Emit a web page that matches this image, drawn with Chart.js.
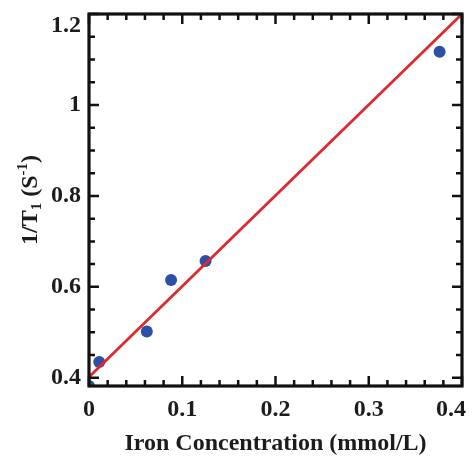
<!DOCTYPE html>
<html><head><meta charset="utf-8">
<script src="https://cdn.jsdelivr.net/npm/chart.js@4/dist/chart.umd.min.js"></script>
<style>html,body{margin:0;padding:0;background:#fff;}#wrap{width:472px;height:459px;}</style>
</head><body><div id="wrap"><canvas id="c" width="472" height="459"></canvas></div>
<script>
// Data
const concentration = [0, 0.011, 0.062, 0.088, 0.125, 0.376];
const relaxRate = [0.382, 0.435, 0.502, 0.615, 0.657, 1.117];
const fitX = [0, 0.4];
const fitY = [0.402, 1.2];
const xTicks = [0, 0.1, 0.2, 0.3, 0.4];
const yTicks = [0.4, 0.6, 0.8, 1, 1.2];
const xMinorTicks = [0.02,0.04,0.06,0.08,0.12,0.14,0.16,0.18,0.22,0.24,0.26,0.28,0.32,0.34,0.36,0.38];
const yMinorTicks = [0.45,0.5,0.55,0.65,0.7,0.75,0.85,0.9,0.95,1.05,1.1,1.15];
const xTitle = 'Iron Concentration (mmol/L)';

const FONT = '"Liberation Serif", "Times New Roman", serif';
const TXT = '#1c1c1c';
const fmt = v => String(+(+v).toFixed(2));

const framePlugin = {
  id: 'frame',
  afterDraw(chart) {
    const {ctx, chartArea: a, scales: {x, y}} = chart;
    ctx.save();
    ctx.strokeStyle = '#111';
    ctx.lineWidth = 2.5;
    ctx.beginPath();
    const tick = (v, len, axis) => {
      if (axis === 'x') {
        const px = x.getPixelForValue(v);
        ctx.moveTo(px, a.bottom); ctx.lineTo(px, a.bottom - len);
        ctx.moveTo(px, a.top); ctx.lineTo(px, a.top + len);
      } else {
        const py = y.getPixelForValue(v);
        ctx.moveTo(a.left, py); ctx.lineTo(a.left + len, py);
        ctx.moveTo(a.right, py); ctx.lineTo(a.right - len, py);
      }
    };
    xTicks.forEach(v => tick(v, 10, 'x'));
    yTicks.forEach(v => tick(v, 10, 'y'));
    xMinorTicks.forEach(v => tick(v, 6, 'x'));
    yMinorTicks.forEach(v => tick(v, 6, 'y'));
    ctx.stroke();
    ctx.lineWidth = 3.2;
    ctx.strokeRect(a.left, a.top, a.right - a.left, a.bottom - a.top);

    ctx.fillStyle = TXT;
    ctx.font = 'bold 24px ' + FONT;
    // y tick labels
    ctx.textAlign = 'right';
    ctx.textBaseline = 'middle';
    yTicks.forEach(v => {
      let py = y.getPixelForValue(v);
      py = Math.max(py, 26);
      ctx.fillText(fmt(v), a.left - 8, py);
    });
    // x tick labels
    ctx.textAlign = 'center';
    ctx.textBaseline = 'alphabetic';
    xTicks.forEach(v => {
      const s = fmt(v);
      const w = ctx.measureText(s).width;
      let px = x.getPixelForValue(v);
      px = Math.min(px, chart.width - 6 - w / 2);
      ctx.fillText(s, px, 416);
    });
    // x title
    ctx.fillText(xTitle, (a.left + a.right) / 2, 450);

    // y title with subscript / superscript
    ctx.translate(37, (a.top + a.bottom) / 2);
    ctx.rotate(-Math.PI / 2);
    ctx.textAlign = 'left';
    const big = 'bold 24px ' + FONT, small = 'bold 15px ' + FONT;
    const parts = [
      {t: '1/T', f: big, dy: 0},
      {t: '1', f: small, dy: 4},
      {t: ' (S', f: big, dy: 0},
      {t: '-1', f: small, dy: -10},
      {t: ')', f: big, dy: 0}
    ];
    let total = 0;
    parts.forEach(p => { ctx.font = p.f; p.w = ctx.measureText(p.t).width; total += p.w; });
    let cx = -total / 2;
    parts.forEach(p => { ctx.font = p.f; ctx.fillText(p.t, cx, p.dy); cx += p.w; });
    ctx.restore();
  }
};

new Chart(document.getElementById('c'), {
  type: 'scatter',
  data: {
    datasets: [
      {
        type: 'line',
        data: fitX.map((v, i) => ({x: v, y: fitY[i]})),
        borderColor: '#dc2a2f', borderWidth: 2.8, pointRadius: 0, fill: false,
        order: 0, clip: false
      },
      {
        data: concentration.map((v, i) => ({x: v, y: relaxRate[i]})),
        backgroundColor: '#2c50a6', borderColor: '#2c50a6', borderWidth: 0,
        pointRadius: 6, order: 1, clip: 0
      }
    ]
  },
  options: {
    responsive: false, animation: false, devicePixelRatio: 1,
    layout: {padding: {top: 14, right: 10, left: 0, bottom: 0}},
    plugins: {legend: {display: false}, tooltip: {enabled: false}},
    scales: {
      x: {
        type: 'linear', min: 0, max: 0.4,
        afterBuildTicks: s => { s.ticks = xTicks.map(v => ({value: v})); },
        grid: {display: false}, border: {display: false},
        ticks: {display: false},
        afterFit: s => { s.height = 73; s.paddingLeft = 0; s.paddingRight = 0; }
      },
      y: {
        type: 'linear', min: 0.382, max: 1.2,
        afterBuildTicks: s => { s.ticks = yTicks.map(v => ({value: v})); },
        grid: {display: false}, border: {display: false},
        ticks: {display: false},
        afterFit: s => { s.width = 89; s.paddingTop = 0; s.paddingBottom = 0; }
      }
    }
  },
  plugins: [framePlugin]
});
</script>
</body></html>
